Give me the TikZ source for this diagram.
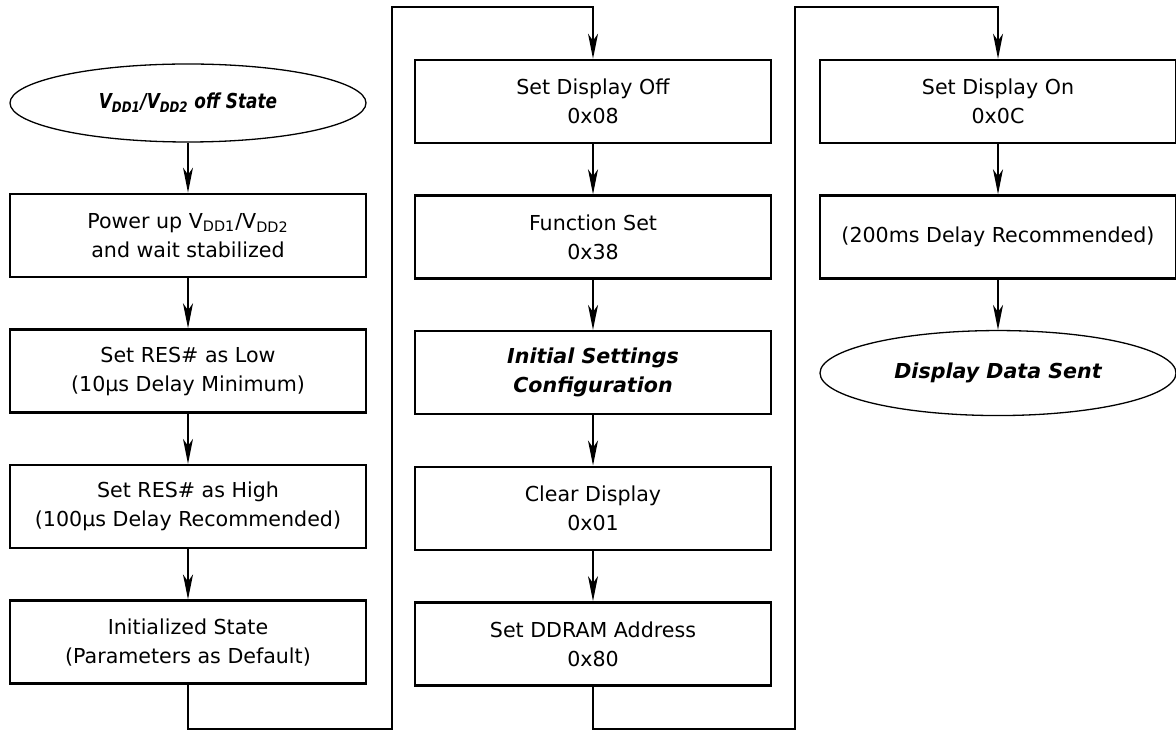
\documentclass[tikz,border=0pt]{standalone}
\usepackage{graphicx}
\usepackage{fontspec}
\setmainfont{DejaVu Sans}
\usetikzlibrary{positioning,shapes.geometric,arrows.meta}

\begin{document}
\begin{tikzpicture}[
      x=0.5pt, y=-0.5pt,
      font=\fontsize{10.3}{14.5}\selectfont,
      node distance=25pt,
      box/.style={draw=black, line width=1.3pt, fill=white, align=center,
        minimum width=178pt, minimum height=41.5pt, inner sep=0pt},
      term/.style={ellipse, draw=black, line width=0.65pt, fill=white,
        minimum width=178pt, inner sep=0pt, font=\fontsize{10.3}{14.5}\selectfont\bfseries\itshape},
      flow/.style={-{Stealth[length=12.5pt, width=5pt, inset=3.5pt]}, line width=0.65pt},
      ]
  \useasboundingbox (0,0) rectangle (1176,731);

  % Define nodes
  \node[term, minimum height=39pt] (off) at (188,103)
    {\scalebox{0.82}[1]{V\textsubscript{DD1}/V\textsubscript{DD2} off State}};
  \node[box, below=of off]   (power) {Power up V\textsubscript{DD1}/V\textsubscript{DD2}\\and wait stabilized};
  \node[box, below=of power] (reslow) {Set RES\# as Low\\(10µs Delay Minimum)};
  \node[box, below=of reslow] (reshigh) {Set RES\# as High\\(100µs Delay Recommended)};
  \node[box, below=of reshigh] (init) {Initialized State\\(Parameters as Default)};

  \node[box] (dispoff) at (593,101.5) {Set Display Off\\0x08};
  \node[box, below=of dispoff] (funcset) {Function Set\\0x38};
  \node[box, below=of funcset] (settings) {\textbf{\textit{Initial Settings}}\\\textbf{\textit{Configuration}}};
  \node[box, below=of settings] (clear) {Clear Display\\0x01};
  \node[box, below=of clear] (ddram) {Set DDRAM Address\\0x80};

  \node[box] (dispon) at (998,101.5) {Set Display On\\0x0C};
  \node[box, below=of dispon] (delay) {(200ms Delay Recommended)};
  \node[term, minimum height=42.5pt, below=of delay] (sent) {Display Data Sent};

  % Connect the nodes
  \draw[flow] (off) -- (power);
  \draw[flow] (power) -- (reslow);
  \draw[flow] (reslow) -- (reshigh);
  \draw[flow] (reshigh) -- (init);
  \draw[flow] (dispoff) -- (funcset);
  \draw[flow] (funcset) -- (settings);
  \draw[flow] (settings) -- (clear);
  \draw[flow] (clear) -- (ddram);
  \draw[flow] (dispon) -- (delay);
  \draw[flow] (delay) -- (sent);

  % Column jumps
  \coordinate (jumpa) at (392,729);
  \coordinate (jumpb) at (392,7);
  \coordinate (jumpc) at (795,729);
  \coordinate (jumpd) at (795,7);
  \draw[flow] (init.south) |- (jumpa) -- (jumpb) -| (dispoff.north);
  \draw[flow] (ddram.south) |- (jumpc) -- (jumpd) -| (dispon.north);

\end{tikzpicture}
\end{document}
